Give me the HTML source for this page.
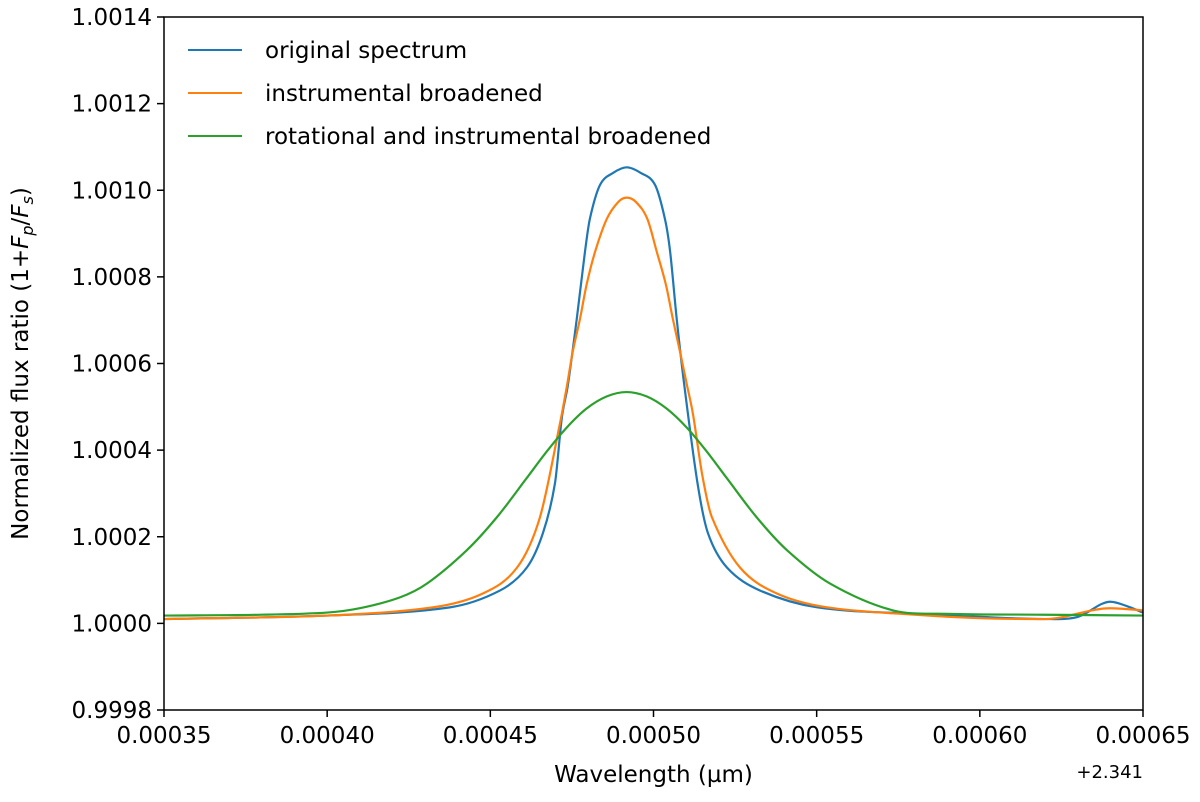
<!DOCTYPE html>
<html><head><meta charset="utf-8"><style>
html,body{margin:0;padding:0;background:#fff;}
svg{display:block;font-family:"DejaVu Sans","Liberation Sans",sans-serif;}
</style></head><body>
<svg id="chart" width="1200" height="802" viewBox="0 0 1200 802">
<g id="plot"></g>
<g id="axes"></g>
<g id="legend"></g>
</svg>
<script>
const xTicks = [0.00035, 0.00040, 0.00045, 0.00050, 0.00055, 0.00060, 0.00065];
const xTickLabels = ["0.00035","0.00040","0.00045","0.00050","0.00055","0.00060","0.00065"];
const yTicks = [0.9998, 1.0000, 1.0002, 1.0004, 1.0006, 1.0008, 1.0010, 1.0012, 1.0014];
const yTickLabels = ["0.9998","1.0000","1.0002","1.0004","1.0006","1.0008","1.0010","1.0012","1.0014"];
const seriesNames = ["original spectrum","instrumental broadened","rotational and instrumental broadened"];
const blueW = [0.00035,0.0004,0.0004376,0.000453,0.0004612,0.0004661,0.0004698,0.0004719,0.0004738,0.0004765,0.000479,0.0004805,0.0004836,0.0004876,0.0004918,0.0004961,0.0005005,0.0005035,0.0005051,0.0005071,0.0005094,0.0005135,0.0005167,0.0005225,0.0005326,0.0005501,0.00058,0.0006,0.00062,0.00063,0.00064,0.000645,0.00065];
const blueV = [0.00001,0.000018,0.000037,0.000076,0.000129,0.000208,0.000323,0.000474,0.000552,0.000704,0.000858,0.000934,0.001012,0.00104,0.001053,0.00104,0.001012,0.000934,0.000858,0.000704,0.000552,0.000323,0.000208,0.000129,0.000076,0.000037,0.000022,0.000015,0.00001,0.000015,0.00005,0.00004,0.000025];
const orangeW = [0.00035,0.0004,0.0004324,0.0004477,0.0004582,0.0004652,0.0004713,0.0004734,0.0004752,0.0004775,0.0004795,0.0004821,0.0004857,0.0004892,0.0004918,0.0004946,0.0004981,0.000501,0.0005038,0.0005059,0.0005081,0.0005102,0.0005121,0.000515,0.0005179,0.0005265,0.0005378,0.0005531,0.00058,0.0006,0.00062,0.00064,0.00065];
const orangeV = [0.00001,0.000018,0.000037,0.000069,0.000129,0.000245,0.00046,0.000545,0.000625,0.000704,0.000782,0.000858,0.000934,0.000973,0.000983,0.000973,0.000934,0.000858,0.000782,0.000704,0.000628,0.000552,0.000483,0.00034,0.000245,0.000129,0.000069,0.000037,0.00002,0.000012,0.00001,0.000035,0.00003];
const greenW = [0.00035,0.00038,0.0004,0.00041,0.0004223,0.0004306,0.0004428,0.000452,0.0004612,0.0004673,0.0004734,0.0004795,0.0004857,0.0004918,0.0004979,0.000504,0.0005102,0.0005163,0.0005224,0.0005316,0.0005409,0.0005541,0.0005734,0.00059,0.00062,0.00065];
const greenV = [0.000018,0.00002,0.000025,0.000035,0.00006,0.000092,0.000169,0.000245,0.000336,0.000397,0.000452,0.000496,0.000524,0.000534,0.000524,0.000496,0.000452,0.000397,0.000336,0.000245,0.000169,0.000092,0.00003,0.000022,0.00002,0.000018];
const colors = ["#1f77b4","#ff7f0e","#2ca02c"];

const L=164,R=1143,T=17,B=710;
const NS="http://www.w3.org/2000/svg";
function xs(w){return L+(w-0.00035)/(0.0003)*(R-L);}
function ys(v){return B-(v-0.9998)/(0.0016)*(B-T);}
function mk(tag,attrs,parent){const e=document.createElementNS(NS,tag);for(const k in attrs)e.setAttribute(k,attrs[k]);parent.appendChild(e);return e;}
const plot=document.getElementById('plot'),axes=document.getElementById('axes'),legend=document.getElementById('legend');

function smoothPath(W,V){
  const p=W.map((w,i)=>[xs(w),ys(1+V[i])]);
  const n=p.length,tg=new Array(n);
  tg[0]=(p[1][1]-p[0][1])/(p[1][0]-p[0][0]);
  tg[n-1]=(p[n-1][1]-p[n-2][1])/(p[n-1][0]-p[n-2][0]);
  for(let i=1;i<n-1;i++){
    const a=p[i][1]-p[i-1][1],b=p[i+1][1]-p[i][1];
    tg[i]=(a*b<0)?0:(p[i+1][1]-p[i-1][1])/(p[i+1][0]-p[i-1][0]);
  }
  let d="M"+p[0][0]+","+p[0][1];
  for(let i=0;i<n-1;i++){
    const h=(p[i+1][0]-p[i][0])/3;
    d+=" C"+(p[i][0]+h)+","+(p[i][1]+tg[i]*h)+" "+(p[i+1][0]-h)+","+(p[i+1][1]-tg[i+1]*h)+" "+p[i+1][0]+","+p[i+1][1];
  }
  return d;
}
const clip=mk('clipPath',{id:'clp'},plot);mk('rect',{x:L,y:T,width:R-L,height:B-T},clip);
const data=[[blueW,blueV],[orangeW,orangeV],[greenW,greenV]];
const names=['original-spectrum-line','instrumental-broadened-line','rotational-broadened-line'];
data.forEach((s,i)=>{
  const el=mk('path',{d:smoothPath(s[0],s[1]),fill:'none',stroke:colors[i],'stroke-width':2.2,'stroke-linejoin':'round','clip-path':'url(#clp)'},plot);
  
  
});
const frame=mk('rect',{x:L,y:T,width:R-L,height:B-T,fill:'none',stroke:'#000','stroke-width':1.5},axes);


xTicks.forEach((t,i)=>{
  const x=xs(t);
  mk('line',{x1:x,x2:x,y1:B,y2:B+7,stroke:'#000','stroke-width':1.5},axes);
  const tx=mk('text',{x:x,y:B+33,'text-anchor':'middle','font-size':23,fill:'#000'},axes);
  tx.textContent=xTickLabels[i];
  
  
});
yTicks.forEach((t,i)=>{
  const y=ys(t);
  mk('line',{x1:L-7,x2:L,y1:y,y2:y,stroke:'#000','stroke-width':1.5},axes);
  const tx=mk('text',{x:L-12,y:y+8,'text-anchor':'end','font-size':23,fill:'#000'},axes);
  tx.textContent=yTickLabels[i];
  
  
});
const xl=mk('text',{x:(L+R)/2,y:782,'text-anchor':'middle','font-size':23,fill:'#000'},axes);
xl.textContent="Wavelength (µm)";


const off=mk('text',{x:R,y:778,'text-anchor':'end','font-size':18,fill:'#000'},axes);
off.textContent="+2.341";


const yl=mk('text',{x:0,y:0,'text-anchor':'middle','font-size':23,fill:'#000',transform:'translate(28,'+((T+B)/2)+') rotate(-90)'},axes);
yl.innerHTML='Normalized flux ratio (1+<tspan font-style="italic">F</tspan><tspan font-style="italic" font-size="16" dy="5">p</tspan><tspan dy="-5">/</tspan><tspan font-style="italic">F</tspan><tspan font-style="italic" font-size="16" dy="5">s</tspan><tspan dy="-5">)</tspan>';


seriesNames.forEach((n,i)=>{
  const y=50+i*43;
  const ln=mk('line',{x1:188,x2:242,y1:y,y2:y,stroke:colors[i],'stroke-width':2},legend);
  
  
  const tx=mk('text',{x:265,y:y+8,'font-size':23,fill:'#000'},legend);
  tx.textContent=n;
  
  
});
</script>
</body></html>
